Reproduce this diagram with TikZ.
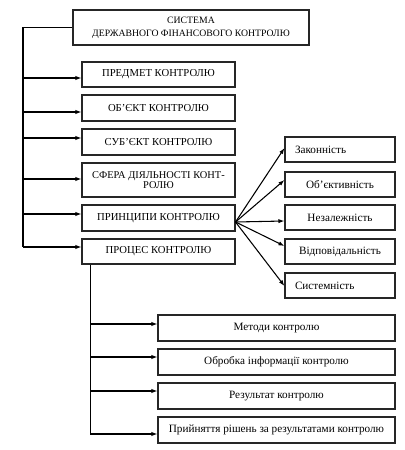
\documentclass[tikz,border=0pt]{standalone}
\usepackage{fontspec}
\setmainfont{Liberation Serif}
\usetikzlibrary{arrows.meta,calc}
\tikzset{
  bx/.style={draw=black!85, line width=0.8pt, inner sep=0pt, align=center, font=\fontsize{8}{9}\selectfont},
  lbx/.style={bx, font=\fontsize{8.4}{10}\selectfont},
  arr/.style={line width=0.8pt, -{Latex[length=4.5pt,width=3.2pt]}},
  ln/.style={line width=0.8pt},
  sz/.style 2 args={minimum width=#1*0.75pt, minimum height=#2*0.75pt}
}
\begin{document}
\begin{tikzpicture}[x=0.75pt,y=-0.75pt]
\useasboundingbox (0,0) rectangle (404,450);
% top
\node[bx, sz={236}{35}, font=\fontsize{7.3}{9.8}\selectfont] (top) at (191,27.5) {СИСТЕМА\\ДЕРЖАВНОГО ФІНАНСОВОГО КОНТРОЛЮ};
% left column
\node[bx, sz={153}{25}] (b1) at (158.5,74.5) {ПРЕДМЕТ КОНТРОЛЮ};
\node[bx, sz={153}{26}] (b2) at (158.5,108) {ОБ’ЄКТ КОНТРОЛЮ};
\node[bx, sz={153}{26}] (b3) at (158.5,142) {СУБ’ЄКТ КОНТРОЛЮ};
\node[bx, sz={153}{34}, font=\fontsize{7.8}{7.6}\selectfont] (b4) at (158.5,180) {СФЕРА ДІЯЛЬНОСТІ КОНТ-\\РОЛЮ};
\node[bx, sz={153}{26}] (b5) at (158.5,218) {ПРИНЦИПИ КОНТРОЛЮ};
\node[bx, sz={153}{25}] (b6) at (158.5,251.5) {ПРОЦЕС КОНТРОЛЮ};
% right column
\node[lbx, sz={110}{25}, text width=90*0.75pt, align=left] (r1) at (340,149.5) {Законність};
\node[lbx, sz={110}{25}] (r2) at (340,184.5) {Об’єктивність};
\node[lbx, sz={110}{25}] (r3) at (340,217.5) {Незалежність};
\node[lbx, sz={110}{25}] (r4) at (340,251.5) {Відповідальність};
\node[lbx, sz={110}{25}, text width=90*0.75pt, align=left] (r5) at (340,285.5) {Системність};
% bottom column
\node[lbx, sz={237}{26}] (c1) at (276.5,328) {Методи контролю};
\node[lbx, sz={237}{26}] (c2) at (276.5,362) {Обробка інформації контролю};
\node[lbx, sz={237}{26}] (c3) at (276.5,396) {Результат контролю};
\node[lbx, sz={237}{26}] (c4) at (276.5,430) {Прийняття рішень за результатами контролю};
% left trunk
\coordinate (tl) at (23,27.5);
\coordinate (a1) at ($(b1.west)+(0,3.5)$);
\coordinate (a2) at ($(b2.west)+(0,4)$);
\coordinate (a3) at ($(b3.west)+(0,-4)$);
\coordinate (a4) at ($(b4.west)+(0,-1)$);
\coordinate (a5) at ($(b5.west)+(0,-4)$);
\coordinate (a6) at ($(b6.west)+(0,-4.5)$);
\draw[ln] (top.west) -- (tl) -- (tl |- a6);
\foreach \a in {a1,a2,a3,a4,a5,a6} \draw[arr] (tl |- \a) -- (\a);
% fan
\coordinate (fo) at ($(b5.east)+(0,4)$);
\draw[arr] (fo) -- ($(r1.west)+(0,-1.5)$);
\draw[arr] (fo) -- ($(r2.west)+(0,-4.5)$);
\draw[arr] (fo) -- ($(r3.west)+(0,3.5)$);
\draw[arr] (fo) -- ($(r4.west)+(0,-5.5)$);
\draw[arr] (fo) -- ($(r5.west)+(0,0.5)$);
% bottom trunk
\coordinate (pv) at ($(b6.south west)+(9,0)$);
\coordinate (d1) at ($(c1.west)+(0,-4)$);
\coordinate (d2) at ($(c2.west)+(0,-5)$);
\coordinate (d3) at ($(c3.west)+(0,-5)$);
\coordinate (d4) at ($(c4.west)+(0,4)$);
\draw[ln] (pv) -- (pv |- d4);
\foreach \d in {d1,d2,d3,d4} \draw[arr] (pv |- \d) -- (\d);
\end{tikzpicture}
\end{document}
